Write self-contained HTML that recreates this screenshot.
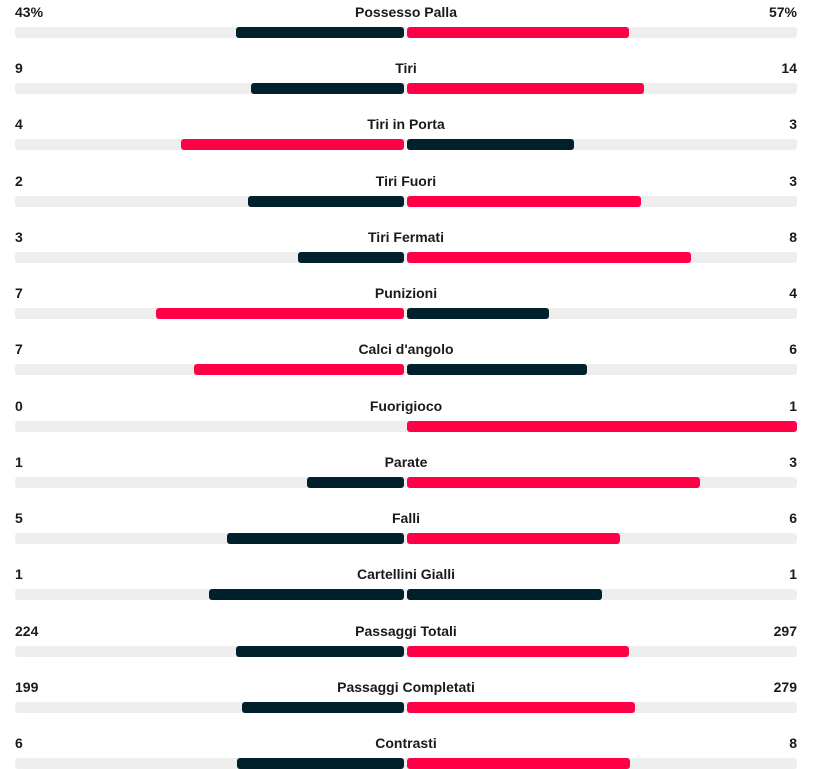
<!DOCTYPE html>
<html><head><meta charset="utf-8"><style>
body{margin:0;width:818px;height:765px;overflow:hidden;background:#fff;font-family:"Liberation Sans",sans-serif;color:#1a1a1a}
#chart{position:relative;width:818px;height:765px}
.lbl{position:absolute;font-size:14px;font-weight:600;line-height:16px;white-space:nowrap}
.bar{position:absolute;height:11px;border-radius:3px}
</style></head><body>
<div id="chart"></div>
<script>
const categories=["Possesso Palla","Tiri","Tiri in Porta","Tiri Fuori","Tiri Fermati","Punizioni","Calci d'angolo","Fuorigioco","Parate","Falli","Cartellini Gialli","Passaggi Totali","Passaggi Completati","Contrasti"];
const homeValues=[43,9,4,2,3,7,7,0,1,5,1,224,199,6];
const awayValues=[57,14,3,3,8,4,6,1,3,6,1,297,279,8];
const homeLabels=["43%","9","4","2","3","7","7","0","1","5","1","224","199","6"];
const awayLabels=["57%","14","3","3","8","4","6","1","3","6","1","297","279","8"];

const chart=document.getElementById('chart');
const L=15,R=797,CL=404,CR=407,HALF=390,PITCH=56.23,TOP=4;
const DARK='#00202b',RED='#ff0046',TRACK='#eeeeee';
function mk(cls,css){const d=document.createElement('div');d.className=cls;Object.assign(d.style,css);chart.appendChild(d);return d;}
categories.forEach((c,i)=>{
  const y=TOP+i*PITCH, by=y+23;
  const h=homeValues[i],a=awayValues[i],t=h+a;
  const hs=t?h/t:0, as=t?a/t:0;
  const tr=mk('bar',{left:L+'px',top:by+'px',width:(R-L)+'px',background:TRACK});
  
  
  const hc=h>a?RED:DARK, ac=a>h?RED:DARK;
  const hw=hs*HALF, aw=as*HALF;
  const hb=mk('bar',{left:(CL-hw)+'px',top:by+'px',width:hw+'px',background:hc});
  
  
  const ab=mk('bar',{left:CR+'px',top:by+'px',width:aw+'px',background:ac});
  
  
  const hl=mk('lbl',{left:L+'px',top:y+'px'});hl.textContent=homeLabels[i];
  
  
  const al=mk('lbl',{right:(818-R)+'px',top:y+'px'});al.textContent=awayLabels[i];
  
  
  const cl=mk('lbl',{left:'406px',top:y+'px',transform:'translateX(-50%)'});cl.textContent=c;
  
  
});
</script>
</body></html>
